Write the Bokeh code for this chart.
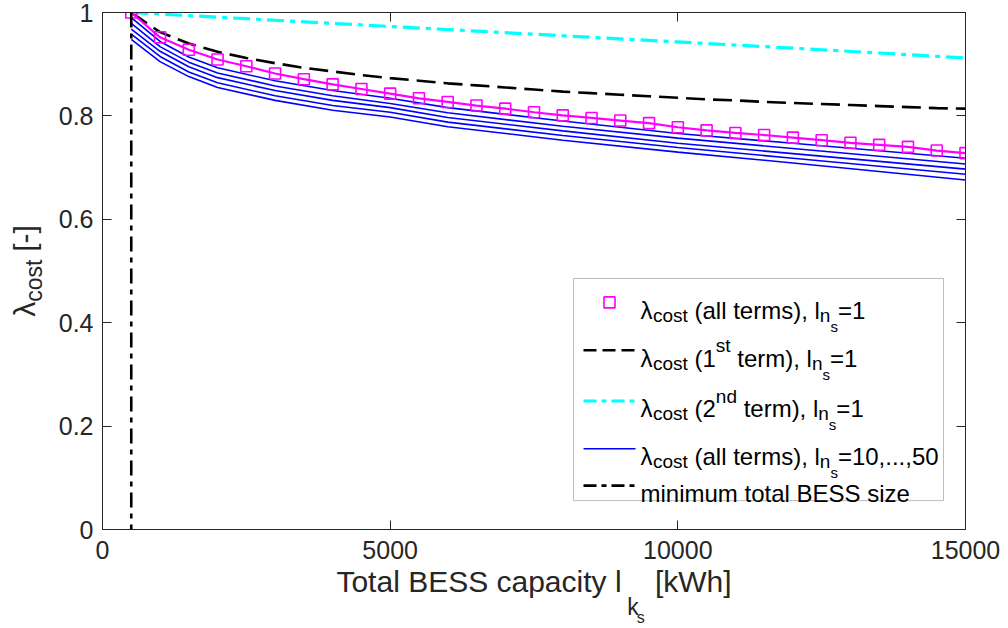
import math
from bokeh.plotting import figure
from bokeh.models import (Range1d, LinearAxis, FixedTicker, CustomJSTickFormatter,
                          Label, BoxAnnotation, Span)
from bokeh.embed import file_html
from bokeh.resources import INLINE

# ---------------- data ----------------
x_kwh = [500, 1000, 1500, 2000, 2500, 3000, 3500, 4000, 4500, 5000,
         5500, 6000, 6500, 7000, 7500, 8000, 8500, 9000, 9500, 10000,
         10500, 11000, 11500, 12000, 12500, 13000, 13500, 14000, 14500, 15000]
lam_all_ns1 = [1.000, 0.952, 0.928, 0.909, 0.896, 0.882, 0.871, 0.861, 0.852, 0.843,
               0.834, 0.827, 0.820, 0.814, 0.807, 0.801, 0.796, 0.791, 0.786, 0.778,
               0.772, 0.767, 0.763, 0.758, 0.753, 0.748, 0.744, 0.740, 0.733, 0.728]
lam_term1_ns1 = [1.000, 0.962, 0.940, 0.924, 0.912, 0.902, 0.893, 0.886, 0.879, 0.873,
                 0.868, 0.863, 0.859, 0.855, 0.851, 0.847, 0.844, 0.841, 0.838, 0.835,
                 0.832, 0.830, 0.827, 0.825, 0.823, 0.821, 0.819, 0.817, 0.815, 0.814]
x_term2 = [500, 2500, 5000, 7500, 10000, 12500, 15000]
lam_term2_ns1 = [1.000, 0.988, 0.973, 0.958, 0.943, 0.928, 0.912]

x_multi = [500, 1000, 1500, 2000, 3000, 4000, 5000, 6000, 8000, 10000, 12000, 15000]
lam_ns10 = [0.990, 0.944, 0.914, 0.893, 0.868, 0.849, 0.834, 0.816, 0.790, 0.766, 0.747, 0.718]
lam_ns20 = [0.979, 0.934, 0.904, 0.883, 0.858, 0.839, 0.824, 0.806, 0.780, 0.757, 0.737, 0.707]
lam_ns30 = [0.968, 0.925, 0.895, 0.874, 0.849, 0.830, 0.816, 0.797, 0.771, 0.747, 0.727, 0.697]
lam_ns40 = [0.958, 0.915, 0.885, 0.864, 0.839, 0.820, 0.807, 0.788, 0.762, 0.739, 0.718, 0.687]
lam_ns50 = [0.948, 0.905, 0.876, 0.855, 0.830, 0.811, 0.798, 0.779, 0.753, 0.730, 0.709, 0.676]

min_bess_size = 500
x_ticks = [0, 5000, 10000, 15000]
y_ticks = [0, 0.2, 0.4, 0.6, 0.8, 1]

# ---------------- layout ----------------
W, H = 1008, 628
FL, FR, FT, FB = 102, 965, 12, 531
X0, X1, Y0, Y1 = 0, 15000, 0, 1
FONT = "Liberation Sans"
AX = "#262626"
NB = "\u00a0"


def sx(px):
    return X0 + (px - FL) * (X1 - X0) / (FR - FL)


def sy(py):
    return Y0 + (FB - py) * (Y1 - Y0) / (FB - FT)


AW = {' ': 278, NB: 278, '(': 333, ')': 333, ',': 278, '.': 278, '=': 584, '-': 333, '[': 278,
      ']': 278, 'a': 556, 'b': 556, 'c': 500, 'd': 556, 'e': 556, 'f': 278, 'g': 556, 'h': 556,
      'i': 222, 'j': 222, 'k': 500, 'l': 222, 'm': 833, 'n': 556, 'o': 556, 'p': 556, 'q': 556,
      'r': 333, 's': 500, 't': 278, 'u': 556, 'v': 500, 'w': 722, 'x': 500, 'y': 500, 'z': 500,
      'B': 667, 'E': 667, 'S': 667, 'T': 611, 'W': 944, 'λ': 520}


def tw(s, size):
    return sum(AW.get(c, 556) for c in s) / 1000.0 * size


p = figure(width=W, height=H, x_range=Range1d(X0, X1), y_range=Range1d(Y0, Y1),
           output_backend="svg", toolbar_location=None,
           min_border_left=FL, min_border_right=W - FR, min_border_top=FT, min_border_bottom=H - FB,
           background_fill_color="white", border_fill_color="white")
p.grid.visible = False
p.outline_line_color = AX
p.outline_line_width = 1


def style_axis(ax):
    ax.major_tick_in = 9
    ax.major_tick_out = 0
    ax.minor_tick_in = 0
    ax.minor_tick_out = 0
    ax.axis_line_color = AX
    ax.major_tick_line_color = AX
    ax.major_label_text_font = FONT
    ax.major_label_text_font_size = "25px"
    ax.major_label_text_color = AX
    ax.axis_label_text_font = FONT
    ax.axis_label_text_font_style = "normal"
    ax.axis_label_text_color = AX


xa = p.xaxis[0]
ya = p.yaxis[0]
style_axis(xa)
style_axis(ya)
xa.ticker = FixedTicker(ticks=x_ticks)
xa.formatter = CustomJSTickFormatter(code="return tick.toFixed(0);")
xa.major_label_standoff = 11
ya.ticker = FixedTicker(ticks=y_ticks)
ya.formatter = CustomJSTickFormatter(
    code="if (Math.abs(tick) < 1e-9) return '0'; if (Math.abs(tick-1) < 1e-9) return '1'; return tick.toFixed(1);")
ya.major_label_standoff = 9

# x-axis title: main line on the real axis, subscripts on helper axes stacked below
xa.axis_label = "Total BESS capacity l" + NB * 4 + "[kWh]"
xa.axis_label_text_font_size = "30px"
xa.axis_label_standoff = 3

# y-axis title: subscript "cost" on the real axis, "λ ... [-]" on a helper axis further out
ya.axis_label = "cost" + NB * 3
ya.axis_label_text_font_size = "23px"
ya.axis_label_standoff = 9


def helper_axis(ticks, label, size, standoff):
    a = LinearAxis(ticker=FixedTicker(ticks=ticks), formatter=CustomJSTickFormatter(code="return '';"),
                   major_tick_in=0, major_tick_out=0, minor_tick_in=0, minor_tick_out=0,
                   axis_line_color=None, major_tick_line_color=None,
                   major_label_standoff=0, major_label_text_font_size="1px",
                   axis_label=label, axis_label_text_font=FONT, axis_label_text_font_style="normal",
                   axis_label_text_font_size=f"{size}px", axis_label_text_color=AX,
                   axis_label_standoff=standoff)
    return a


p.add_layout(helper_axis(x_ticks, NB * 31 + "k", 23, -7), "below")
p.add_layout(helper_axis(x_ticks, NB * 48 + "s", 16, -14), "below")
p.add_layout(helper_axis(y_ticks, "λ" + NB * 6 + "[-]", 30, -23), "left")

# box ticks on top and right
for loc, ticks in (("above", x_ticks), ("right", y_ticks)):
    a = LinearAxis(ticker=FixedTicker(ticks=ticks), formatter=CustomJSTickFormatter(code="return '';"),
                   major_tick_in=9, major_tick_out=0, minor_tick_in=0, minor_tick_out=0,
                   axis_line_color=AX, major_tick_line_color=AX,
                   major_label_standoff=0, major_label_text_font_size="1px")
    p.add_layout(a, loc)

# ---------------- data marks ----------------
for ys in (lam_ns10, lam_ns20, lam_ns30, lam_ns40, lam_ns50):
    p.line(x_multi, ys, line_color="#0000FF", line_width=1.6)
p.line(x_kwh, lam_term1_ns1, line_color="black", line_width=2.6, line_dash="19 8")
p.line(x_term2, lam_term2_ns1, line_color="#00FFFF", line_width=3.2, line_dash="17 6 5 6")
p.line(x_kwh, lam_all_ns1, line_color="#FF00FF", line_width=2.2)
p.scatter(x_kwh, lam_all_ns1, marker="square", size=11, line_color="#FF00FF", line_width=1.6,
          fill_color=None)
p.add_layout(Span(location=min_bess_size, dimension="height", line_color="black", line_width=2.6,
                  line_dash="15 6 5 6"))


# ---------------- rich text helper (inside the frame) ----------------
def rich(segments, x_px, base_px, color):
    cur = x_px
    for text, size, dy in segments:
        text = text.replace(" ", NB)
        lab = Label(x=sx(cur), y=sy(base_px + dy), text=text, text_font=FONT,
                    text_font_size=f"{size}px", text_baseline="alphabetic", text_align="left",
                    text_color=color)
        p.add_layout(lab)
        cur += tw(text, size)


# ---------------- legend ----------------
LF, LS, LSS = 24, 19, 15
LX0, LX1, LTOP, LBOT = 573, 943, 279, 502
p.add_layout(BoxAnnotation(left=sx(LX0), right=sx(LX1), top=sy(LTOP), bottom=sy(LBOT),
                           fill_color="white", fill_alpha=1.0, line_color=AX, line_width=1,
                           level="underlay"))
rows_y = [303, 351, 402, 450, 487]
s1, s2 = 583, 635
tx = 640
p.scatter([sx((s1 + s2) / 2)], [sy(rows_y[0])], marker="square", size=11, line_color="#FF00FF",
          line_width=1.6, fill_color=None)
p.line([sx(s1), sx(s2)], [sy(rows_y[1])] * 2, line_color="black", line_width=2.6, line_dash="13 6")
p.line([sx(s1), sx(s2)], [sy(rows_y[2])] * 2, line_color="#00FFFF", line_width=3.2, line_dash="13 5 5 5")
p.line([sx(s1), sx(s2)], [sy(rows_y[3])] * 2, line_color="#0000FF", line_width=1.6)
p.line([sx(s1), sx(s2)], [sy(rows_y[4])] * 2, line_color="black", line_width=2.6, line_dash="13 5 5 5")

lam = [("λ", LF, 0), ("cost", LS, 5)]
lns = [("n", LS, 5), ("s", LSS, 16)]
rows = [
    lam + [(" (all terms), l", LF, 0)] + lns + [("=1", LF, 0)],
    lam + [(" (1", LF, 0), ("st", LS, -13), (" term), l", LF, 0)] + lns + [("=1", LF, 0)],
    lam + [(" (2", LF, 0), ("nd", LS, -13), (" term), l", LF, 0)] + lns + [("=1", LF, 0)],
    lam + [(" (all terms), l", LF, 0)] + lns + [("=10,...,50", LF, 0)],
    [("minimum total BESS size", LF, 0)],
]
for ry, segs in zip(rows_y, rows):
    rich(segs, tx, ry + 8, "black")

open("out.html", "w").write(file_html(p, INLINE))
